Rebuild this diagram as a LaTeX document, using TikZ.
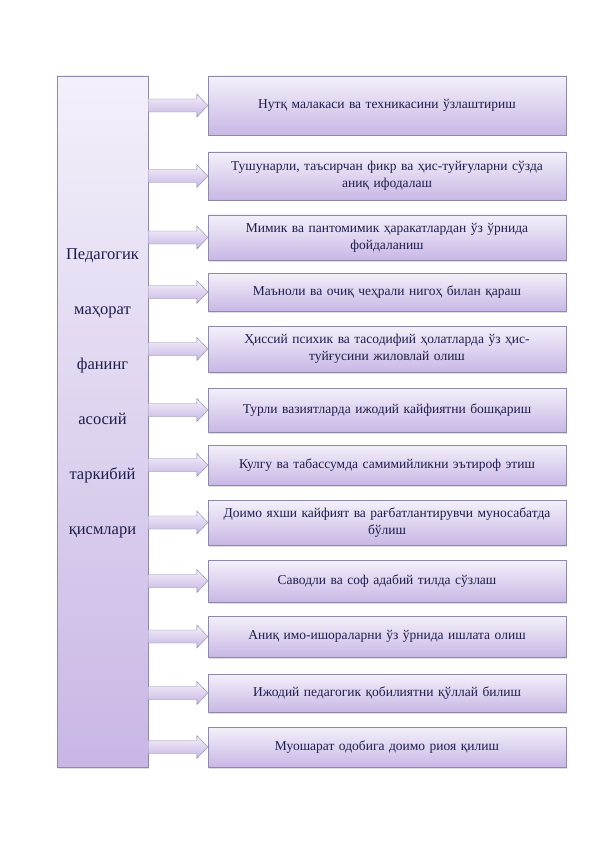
\documentclass[tikz,border=0pt]{standalone}
\usepackage{fontspec}
\setmainfont{Liberation Serif}
\usetikzlibrary{calc,shadows}

\definecolor{boxtop}{HTML}{F4F0FA}
\definecolor{boxbot}{HTML}{C8B7E5}
\definecolor{boxline}{HTML}{8E89A8}
\definecolor{ink}{HTML}{1D1D4B}

\tikzset{
  item/.style={draw=boxline, top color=boxtop, bottom color=boxbot,
    minimum width=358pt, text width=350pt, align=center, inner sep=0pt,
    font=\fontsize{13.5}{17}\selectfont, text=ink,
    drop shadow={opacity=0.25, shadow xshift=1pt, shadow yshift=-1.5pt}},
  blockarrow/.style={draw=boxline, top color=boxtop, bottom color=boxbot,
    to path={let \p1=(\tikztostart), \p2=(\tikztotarget) in
      (\x1,\y1+6.5pt) -- (\x2-11pt,\y1+6.5pt) -- (\x2-11pt,\y1+11.5pt)
      -- (\x2,\y1) -- (\x2-11pt,\y1-11.5pt) -- (\x2-11pt,\y1-6.5pt)
      -- (\x1,\y1-6.5pt) -- cycle}}
}

\begin{document}
\begin{tikzpicture}[x=1pt,y=-1pt]
  \fill[white] (0,0) rectangle (596,842);
  \useasboundingbox (0,0) rectangle (596,842);

  % left column
  \node[draw=boxline, top color=boxtop, bottom color=boxbot, minimum width=91pt,
    minimum height=691pt, inner sep=0pt,
    drop shadow={opacity=0.25, shadow xshift=1pt, shadow yshift=-1.5pt}] (L) at (102.5,421.5) {};
  \node[font=\fontsize{16.5}{55}\selectfont, text=ink, align=center] (title) at (102.5,393)
    {Педагогик\\маҳорат\\фанинг\\асосий\\таркибий\\қисмлари};

  % right column
  \begin{scope}[every node/.style={item}]
    \node[minimum height=59pt] (B1) at (387,105.5) {Нутқ малакаси ва техникасини ўзлаштириш};
    \node[minimum height=48pt] (B2) at (387,176) {Тушунарли, таъсирчан фикр ва ҳис-туйғуларни сўзда\\аниқ ифодалаш};
    \node[minimum height=45pt] (B3) at (387,237.5) {Мимик ва пантомимик ҳаракатлардан ўз ўрнида\\фойдаланиш};
    \node[minimum height=38pt] (B4) at (387,292) {Маъноли ва очиқ чеҳрали нигоҳ билан қараш};
    \node[minimum height=46pt] (B5) at (387,349) {Ҳиссий психик ва тасодифий ҳолатларда ўз ҳис-\\туйғусини жиловлай олиш};
    \node[minimum height=44pt] (B6) at (387,410) {Турли вазиятларда ижодий кайфиятни бошқариш};
    \node[minimum height=40pt] (B7) at (387,465) {Кулгу ва табассумда самимийликни эътироф этиш};
    \node[minimum height=45pt] (B8) at (387,522.5) {Доимо яхши кайфият ва рағбатлантирувчи муносабатда\\бўлиш};
    \node[minimum height=42pt] (B9) at (387,581) {Саводли ва соф адабий тилда сўзлаш};
    \node[minimum height=41pt] (B10) at (387,636.5) {Аниқ имо-ишораларни ўз ўрнида ишлата олиш};
    \node[minimum height=38pt] (B11) at (387,693) {Ижодий педагогик қобилиятни қўллай билиш};
    \node[minimum height=40pt] (B12) at (387,747) {Муошарат одобига доимо риоя қилиш};
  \end{scope}

  % arrows
  \begin{scope}
    \path[blockarrow] (L.east |- B1.west) to (B1.west);
    \path[blockarrow] (L.east |- B2.west) to (B2.west);
    \path[blockarrow] (L.east |- B3.west) to (B3.west);
    \path[blockarrow] (L.east |- B4.west) to (B4.west);
    \path[blockarrow] (L.east |- B5.west) to (B5.west);
    \path[blockarrow] (L.east |- B6.west) to (B6.west);
    \path[blockarrow] (L.east |- B7.west) to (B7.west);
    \path[blockarrow] (L.east |- B8.west) to (B8.west);
    \path[blockarrow] (L.east |- B9.west) to (B9.west);
    \path[blockarrow] (L.east |- B10.west) to (B10.west);
    \path[blockarrow] (L.east |- B11.west) to (B11.west);
    \path[blockarrow] (L.east |- B12.west) to (B12.west);
  \end{scope}
\end{tikzpicture}
\end{document}
